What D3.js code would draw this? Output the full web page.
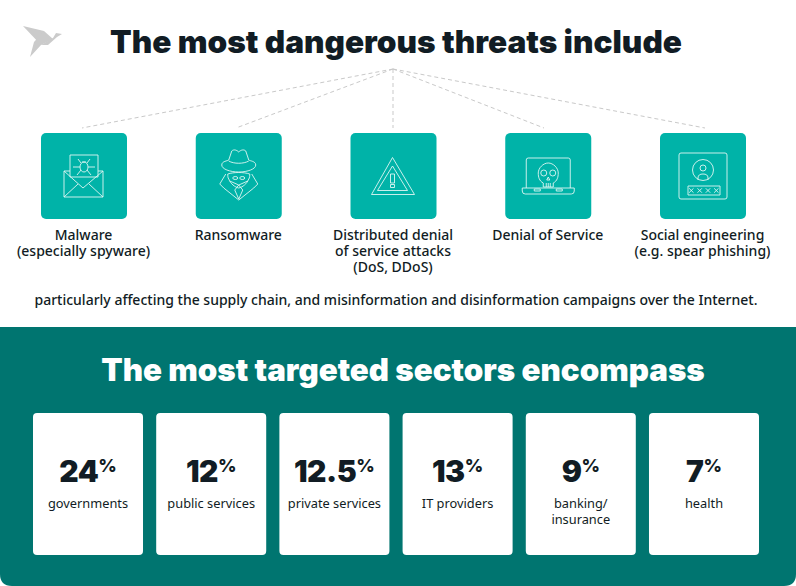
<!DOCTYPE html>
<html><head><meta charset="utf-8">
<script src="https://cdn.jsdelivr.net/npm/d3@7"></script>
<style>html,body{margin:0;padding:0;background:#fff}svg{display:block}</style>
</head><body><svg id="c" width="796" height="586"></svg>
<script>
const threatTitle = "The most dangerous threats include";
const threats = ["Malware","Ransomware","Distributed denial","Denial of Service","Social engineering"];
const threatLabels = [
  ["Malware","(especially spyware)"],
  ["Ransomware"],
  ["Distributed denial","of service attacks","(DoS, DDoS)"],
  ["Denial of Service"],
  ["Social engineering","(e.g. spear phishing)"]
];
const footnote = "particularly affecting the supply chain, and misinformation and disinformation campaigns over the Internet.";
const sectorTitle = "The most targeted sectors encompass";
const sectors = ["governments","public services","private services","IT providers","banking/ insurance","health"];
const sectorLabels = [["governments"],["public services"],["private services"],["IT providers"],["banking/","insurance"],["health"]];
const shares = [24,12,12.5,13,9,7];

const dark="#111c24", teal="#00b3a8", deep="#007570", dash="#c9c9c9";
const titleFont="Inter, Lato, sans-serif", bodyFont="'Noto Sans', sans-serif";
const svg=d3.select("#c");

svg.append("path").attr("fill",deep)
  .attr("d","M0,327H796V574Q796,586 784,586H12Q0,586 0,574Z");

const bird=svg.append("g").attr("fill","#cbcbcb");
["M23,26L44,31L41,45Z","M44,31L53,39L41,45L30,57L34,42Z","M53,38L56,33L62,34L57,37L48,45L41,45Z"]
  .forEach(d=>bird.append("path").attr("d",d));

svg.append("text").attr("x",396).attr("y",53).attr("text-anchor","middle")
  .style("font",`900 31.6px ${titleFont}`).attr("fill",dark).text(threatTitle);

const xT=d3.scalePoint().domain(threats).range([84,703]);
const hub=[393,69];
const ends=[82,236,393,544,705];
svg.append("g").selectAll("line").data(threats).join("line")
  .attr("x1",hub[0]).attr("y1",hub[1])
  .attr("x2",(d,i)=>ends[i]).attr("y2",128)
  .attr("stroke",dash).attr("stroke-width",1).attr("stroke-dasharray","4 3");

const boxes=svg.append("g").selectAll("g").data(threats).join("g")
  .attr("transform",d=>`translate(${xT(d)},176)`);
boxes.append("rect").attr("x",-43).attr("y",-43).attr("width",86).attr("height",86).attr("rx",5).attr("fill",teal);

function p(g,d){g.append("path").attr("d",d).attr("fill","none").attr("stroke","#dff6f3").attr("stroke-width",0.9);}
const icons=[
 g=>{
  p(g,"M-20,-5H-14M14,-5H19V21H-20V-5M-20,-5L-1,12L19,-5M-20,21L-6,8M19,21L5,8");
  p(g,"M-14,1V-21H14V1H-14");
  p(g,"M-4,-9a4,5 0 1 0 8,0a4,5 0 1 0 -8,0M-4,-9H-11M4,-9H11M-3,-6L-7,-1M3,-6L7,-1M-3,-13L-6,-17M3,-13L6,-17M-2,-14h4");
 },
 g=>{
  p(g,"M-17,-11C-17,-7 -9,-4 0,-4S17,-7 17,-11C17,-15 11,-15 10,-16L7,-25C5,-27 2,-26 0,-24C-2,-26 -5,-27 -7,-25L-10,-16C-11,-15 -17,-15 -17,-11Z");
  p(g,"M-10,-15C-5,-12 5,-12 10,-15");
  p(g,"M-11,-2C-11,-1 -11,2 -10,3C-8,8 -4,11 0,12C4,11 8,8 10,3C11,2 11,-1 11,-2C5,-4 -5,-4 -11,-2Z");
  p(g,"M-6,2a2.5,1.5 0 1 0 5,0a2.5,1.5 0 1 0 -5,0M1,2a2.5,1.5 0 1 0 5,0a2.5,1.5 0 1 0 -5,0");
  p(g,"M-9,5L0,9L9,5M-4,14L0,23L4,14L0,9Z");
  p(g,"M-13,-2L-19,8L-15,12L0,24L15,12L19,8L13,-2");
 },
 g=>{
  p(g,"M-1,-18.5L-22,18.5H21Z");
  p(g,"M-1,-10L-16,14.5H14Z");
  p(g,"M-3,-2H1V7H-3ZM-3,8.5H1V11.5H-3Z");
 },
 g=>{
  p(g,"M-22,12V-16Q-22,-18 -20,-18H20Q22,-18 22,-16V12");
  p(g,"M-26,12H26V15Q26,18 23,18H-23Q-26,18 -26,15Z");
  p(g,"M-14,13H-8V15H-14ZM8,13H14V15H8Z");
  p(g,"M-5,11V7C-9,5 -10,1 -10,-3C-10,-8 -5,-13 0,-13S10,-8 10,-3C10,1 9,5 5,7V11Z");
  p(g,"M-7.5,-3a3,3 0 1 0 6,0a3,3 0 1 0 -6,0M1.5,-3a3,3 0 1 0 6,0a3,3 0 1 0 -6,0M-1.5,4L0,1L1.5,4ZM-2,7V11M0,7V11M2,7V11");
 },
 g=>{
  p(g,"M-22,-23H22Q24,-23 24,-21V21Q24,23 22,23H-22Q-24,23 -24,21V-21Q-24,-23 -22,-23Z");
  p(g,"M-10.5,-6a10.5,10.5 0 1 0 21,0a10.5,10.5 0 1 0 -21,0");
  p(g,"M-3,-8a3,3 0 1 0 6,0a3,3 0 1 0 -6,0M-5,4V2C-5,-1 -3,-2 0,-2S5,-1 5,2V4");
  p(g,"M-15,10H17V19H-15Z");
  [-11.7,-3.3,5,13.3].forEach(c=>p(g,`M${c-2.2},12.3L${c+2.2},16.7M${c+2.2},12.3L${c-2.2},16.7`));
 }
];
boxes.each(function(d,i){icons[i](d3.select(this));});

const labs=svg.append("g").selectAll("text").data(threats).join("text")
  .attr("text-anchor","middle").attr("fill",dark)
  .style("font",`500 14px ${bodyFont}`)
  .attr("transform",d=>`translate(${xT(d)-0.5},240)`);
labs.selectAll("tspan").data((d,i)=>threatLabels[i]).join("tspan")
  .attr("x",0).attr("y",(d,i)=>i*16).text(d=>d);

svg.append("text").attr("x",396).attr("y",305).attr("text-anchor","middle")
  .style("font",`500 14px ${bodyFont}`).attr("fill",dark).text(footnote);

svg.append("text").attr("x",403).attr("y",381).attr("text-anchor","middle")
  .style("font",`900 31.3px ${titleFont}`).attr("fill","#fff").text(sectorTitle);

const xS=d3.scaleBand().domain(sectors).range([33,759]).paddingInner(0.107);
const cards=svg.append("g").selectAll("g").data(sectors).join("g")
  .attr("transform",d=>`translate(${xS(d)},413)`);
cards.append("rect").attr("width",xS.bandwidth()).attr("height",142).attr("rx",4).attr("fill","#fff");
const num=cards.append("text").attr("x",xS.bandwidth()/2).attr("y",69).attr("text-anchor","middle").attr("fill",dark);
num.append("tspan").style("font",`900 30px ${titleFont}`).style("letter-spacing","-0.5px").text((d,i)=>shares[i]);
num.append("tspan").style("font",`800 18px ${titleFont}`).attr("dy",-10).text("%");
const sl=cards.append("text").attr("text-anchor","middle").attr("fill",dark)
  .style("font",`400 12.8px ${bodyFont}`);
sl.selectAll("tspan").data((d,i)=>sectorLabels[i]).join("tspan")
  .attr("x",xS.bandwidth()/2).attr("y",(d,i)=>95+i*16).text(d=>d);
</script></body></html>
